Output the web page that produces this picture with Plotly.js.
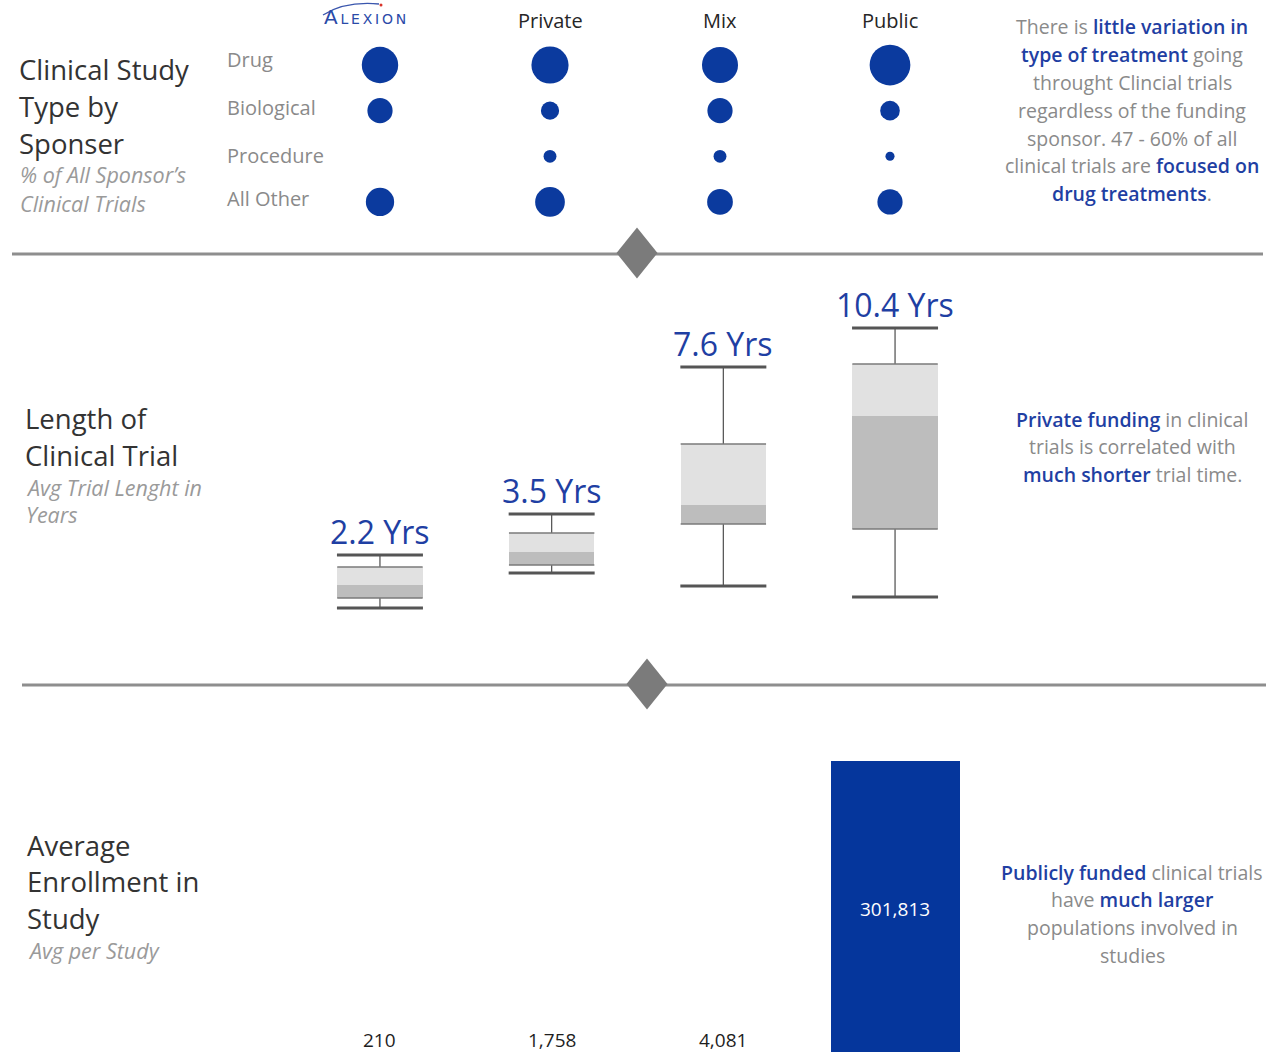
<!DOCTYPE html>
<html><head><meta charset="utf-8">
<script src="https://cdn.plot.ly/plotly-3.0.1.min.js"></script>
<style>html,body{margin:0;padding:0;background:#fff;overflow:hidden}#chart{width:1266px;height:1052px}</style>
</head><body><div id="chart"></div>
<script>
// ---------- DATA ----------
const sponsors = ['Alexion', 'Private', 'Mix', 'Public'];
const treatmentTypes = ['Drug', 'Biological', 'Procedure', 'All Other'];
// % of all sponsor's clinical trials
const pctDrug = [48, 50, 47, 60];
const pctBiological = [23, 12, 23, 14];
const pctProcedure = [0, 6, 6, 3];
const pctAllOther = [29, 32, 24, 23];

// Length of clinical trial (years)
const avgYears = [2.2, 3.5, 7.6, 10.4];
const minYears = [1.1, 2.85, 2.2, 1.65];
const q1Years = [1.6, 3.25, 5.3, 5.05];
const medianYears = [2.25, 3.9, 6.25, 10.7];
const q3Years = [3.15, 4.85, 9.3, 13.3];
const maxYears = [3.75, 5.8, 13.15, 15.1];

// Average enrollment per study
const avgEnrollment = [210, 1758, 4081, 301813];

// ---------- HELPERS ----------
const W = 1266, H = 1052;
const px = x => x / W;
const py = y => 1 - y / H;
const FONT = '"Open Sans", "Noto Sans", sans-serif';
const BLUE = '#0b3a9e';
const TXTBLUE = '#1f3fa3';
const GRAY = '#8a8a8a';
const DARK = '#333333';
const SUB = '#9a9a9a';

function ann(x, y, text, o) {
  o = o || {};
  return {
    xref: 'paper', yref: 'paper', x: px(x), y: py(y), text: text,
    showarrow: false, xanchor: o.xanchor || 'left', yanchor: 'middle',
    font: { family: FONT, size: o.size || 19.5, color: o.color || GRAY, style: o.style || 'normal', weight: o.weight || 'normal' }
  };
}
const em = t => '<span style="color:' + TXTBLUE + ';font-weight:600">' + t + '</span>';

// ---------- TRACES ----------
const seriesByType = [pctDrug, pctBiological, pctProcedure, pctAllOther];
const dotX = [], dotY = [], dotS = [];
treatmentTypes.forEach((t, r) => {
  sponsors.forEach((s, c) => {
    const v = seriesByType[r][c];
    if (v > 0) { dotX.push(s); dotY.push(t); dotS.push(v); }
  });
});

const traces = [];
traces.push({
  type: 'scatter', mode: 'markers', x: dotX, y: dotY, xaxis: 'x', yaxis: 'y',
  marker: { size: dotS, sizemode: 'area', sizeref: 0.0724, color: BLUE, opacity: 1, line: { width: 0 } },
  hoverinfo: 'skip'
});

// box plot pieces
const BOXW = 85.4 / 171.7;
traces.push({
  type: 'bar', x: sponsors, base: q1Years, y: q1Years.map((q, i) => medianYears[i] - q),
  xaxis: 'x2', yaxis: 'y2', width: BOXW, marker: { color: '#bdbdbd', line: { width: 0 } }, hoverinfo: 'skip'
});
traces.push({
  type: 'bar', x: sponsors, base: medianYears, y: medianYears.map((m, i) => q3Years[i] - m),
  xaxis: 'x2', yaxis: 'y2', width: BOXW, marker: { color: '#e1e1e1', line: { width: 0 } }, hoverinfo: 'skip'
});
const wx = [], wy = [];
sponsors.forEach((s, i) => {
  wx.push(s, s, null, s, s, null);
  wy.push(q3Years[i], maxYears[i], null, q1Years[i], minYears[i], null);
});
traces.push({
  type: 'scatter', mode: 'lines', x: wx, y: wy, xaxis: 'x2', yaxis: 'y2',
  line: { color: '#5a5a5a', width: 1.3 }, hoverinfo: 'skip', connectgaps: false
});
// line-ew symbol is 1.4 x size wide
traces.push({
  type: 'scatter', mode: 'markers', x: sponsors.concat(sponsors), y: q1Years.concat(q3Years), xaxis: 'x2', yaxis: 'y2',
  marker: { symbol: 'line-ew-open', size: 85.4 / 1.4, color: '#7a7a7a', line: { color: '#7a7a7a', width: 1.4 } }, hoverinfo: 'skip'
});
traces.push({
  type: 'scatter', mode: 'markers', x: sponsors.concat(sponsors), y: minYears.concat(maxYears), xaxis: 'x2', yaxis: 'y2',
  marker: { symbol: 'line-ew-open', size: 86 / 1.4, color: '#555555', line: { color: '#555555', width: 3 } }, hoverinfo: 'skip'
});

// enrollment bars
const enrollText = avgEnrollment.map(v => v.toLocaleString('en-US'));
const lastIdx = avgEnrollment.length - 1;
traces.push({
  type: 'bar', x: sponsors, y: avgEnrollment, xaxis: 'x3', yaxis: 'y3', width: 129 / 171.7,
  marker: { color: '#05369c', line: { width: 0 } },
  text: enrollText.map((t, i) => i === lastIdx ? t : ''),
  textposition: 'inside', insidetextanchor: 'middle', constraintext: 'none', textangle: 0,
  textfont: { family: FONT, size: 19, color: '#ffffff' },
  hoverinfo: 'skip'
});

// ---------- ANNOTATIONS ----------
const annotations = [];
// labels for the small enrollment bars (their bars sit below the visible baseline)
sponsors.slice(0, lastIdx).forEach((s, i) => {
  annotations.push({ xref: 'x3', yref: 'paper', x: s, y: py(1040), text: enrollText[i], showarrow: false,
    xanchor: 'center', yanchor: 'middle', font: { family: FONT, size: 19, color: '#1e1e1e' } });
});
// logo
annotations.push({
  xref: 'paper', yref: 'paper', x: px(365), y: py(17), showarrow: false, xanchor: 'center', yanchor: 'middle',
  text: '<span style="font-size:20px">A</span>\u2009L\u2009E\u2009X\u2009I\u2009O\u2009N',
  font: { family: '"DejaVu Sans", sans-serif', size: 14, color: '#2a4aa8' }
});
// column headers
sponsors.slice(1).forEach(s => {
  annotations.push({ xref: 'x', yref: 'paper', x: s, y: py(21), text: s, showarrow: false, xanchor: 'center', yanchor: 'middle',
    font: { family: FONT, size: 20, color: '#262626' } });
});
// row labels
treatmentTypes.forEach((t, i) => {
  annotations.push({ xref: 'paper', yref: 'y', x: px(225), y: t, yshift: [6, 3, 1, 3][i], text: t, showarrow: false, xanchor: 'left', yanchor: 'middle',
    font: { family: FONT, size: 20, color: GRAY } });
});
// box labels
sponsors.forEach((s, i) => {
  annotations.push({ xref: 'x2', yref: 'y2', x: s, y: maxYears[i], yanchor: 'bottom', yshift: 0, xanchor: 'center',
    text: avgYears[i].toFixed(1) + ' Yrs', showarrow: false, font: { family: FONT, size: 32, color: TXTBLUE } });
});
// section titles
annotations.push(ann(17, 70, 'Clinical Study', { size: 27.5, color: DARK }));
annotations.push(ann(17, 107, 'Type by', { size: 27.5, color: DARK }));
annotations.push(ann(17, 143, 'Sponser', { size: 27.5, color: DARK }));
annotations.push(ann(18, 175, '% of All Sponsor’s', { size: 21.5, color: SUB, style: 'italic' }));
annotations.push(ann(18, 203, 'Clinical Trials', { size: 21.5, color: SUB, style: 'italic' }));

annotations.push(ann(23, 418, 'Length of', { size: 27.5, color: DARK }));
annotations.push(ann(23, 455, 'Clinical Trial', { size: 27.5, color: DARK }));
annotations.push(ann(24, 487, 'Avg Trial Lenght in', { size: 21.5, color: SUB, style: 'italic' }));
annotations.push(ann(24, 515, 'Years', { size: 21.5, color: SUB, style: 'italic' }));

annotations.push(ann(25, 845, 'Average', { size: 27.5, color: DARK }));
annotations.push(ann(25, 881, 'Enrollment in', { size: 27.5, color: DARK }));
annotations.push(ann(25, 918, 'Study', { size: 27.5, color: DARK }));
annotations.push(ann(26, 950, 'Avg per Study', { size: 21.5, color: SUB, style: 'italic' }));

// right commentary
const block1 = [
  'There is ' + em('little variation in'),
  em('type of treatment') + ' going',
  'throught Clincial trials',
  'regardless of the funding',
  'sponsor. 47 - 60% of all',
  'clinical trials are ' + em('focused on'),
  em('drug treatments') + '.'
];
block1.forEach((t, i) => annotations.push(ann(1132, 27 + i * 27.8, t, { xanchor: 'center' })));
const block2 = [
  em('Private funding') + ' in clinical',
  'trials is correlated with',
  em('much shorter') + ' trial time.'
];
block2.forEach((t, i) => annotations.push(ann(1132, 419 + i * 27.6, t, { xanchor: 'center' })));
const block3 = [
  em('Publicly funded') + ' clinical trials',
  'have ' + em('much larger'),
  'populations involved in',
  'studies'
];
block3.forEach((t, i) => annotations.push(ann(1132, 872 + i * 27.7, t, { xanchor: 'center' })));

// ---------- SHAPES ----------
function diamond(cx, cy, hw, hh) {
  return {
    type: 'path', xref: 'paper', yref: 'paper',
    path: 'M ' + px(cx - hw) + ',' + py(cy) + ' L ' + px(cx) + ',' + py(cy - hh) + ' L ' + px(cx + hw) + ',' + py(cy) +
      ' L ' + px(cx) + ',' + py(cy + hh) + ' Z',
    fillcolor: '#7b7b7b', line: { width: 0 }
  };
}
const shapes = [
  { type: 'line', xref: 'paper', yref: 'paper', x0: px(12), x1: px(1263), y0: py(254), y1: py(254), line: { color: '#8e8e8e', width: 3 } },
  diamond(637, 253, 20.5, 25.5),
  { type: 'line', xref: 'paper', yref: 'paper', x0: px(22), x1: px(1266), y0: py(685), y1: py(685), line: { color: '#8e8e8e', width: 3 } },
  diamond(647, 684, 20.5, 25.5),
  // logo swoosh + dot
  { type: 'path', xref: 'paper', yref: 'paper',
    path: 'M ' + px(323) + ',' + py(15) + ' Q ' + px(345) + ',' + py(1) + ' ' + px(379) + ',' + py(4),
    line: { color: '#3a56ad', width: 1.3 } },
  { type: 'circle', xref: 'paper', yref: 'paper', x0: px(379.5), x1: px(382.5), y0: py(6.5), y1: py(3.5),
    fillcolor: '#d9342b', line: { width: 0 } }
];

// ---------- LAYOUT ----------
const hid = { visible: false, fixedrange: true, showgrid: false, zeroline: false };
const layout = {
  width: W, height: H, margin: { l: 0, r: 0, t: 0, b: 0 },
  paper_bgcolor: '#ffffff', plot_bgcolor: 'rgba(0,0,0,0)',
  showlegend: false, barmode: 'overlay', bargap: 0,
  font: { family: FONT },
  xaxis: Object.assign({}, hid, { domain: [px(295), px(975)], type: 'category', categoryarray: sponsors, range: [-0.5, 3.5], anchor: 'y' }),
  yaxis: Object.assign({}, hid, { domain: [py(224.8), py(42.2)], type: 'category', categoryarray: treatmentTypes, range: [3.5, -0.5], anchor: 'x' }),
  xaxis2: Object.assign({}, hid, { domain: [px(294.1), px(980.9)], type: 'category', categoryarray: sponsors, range: [-0.5, 3.5], anchor: 'y2' }),
  yaxis2: Object.assign({}, hid, { domain: [py(640), py(280)], range: [-0.5, 17.5], anchor: 'x2' }),
  xaxis3: Object.assign({}, hid, { domain: [px(294.1), px(980.9)], type: 'category', categoryarray: sponsors, range: [-0.5, 3.5], anchor: 'y3' }),
  yaxis3: Object.assign({}, hid, { domain: [0, py(740)], range: [5098, 323224], anchor: 'x3' }),
  annotations: annotations,
  shapes: shapes
};

Plotly.newPlot('chart', traces, layout, { staticPlot: true, displayModeBar: false });
</script>
</body></html>
